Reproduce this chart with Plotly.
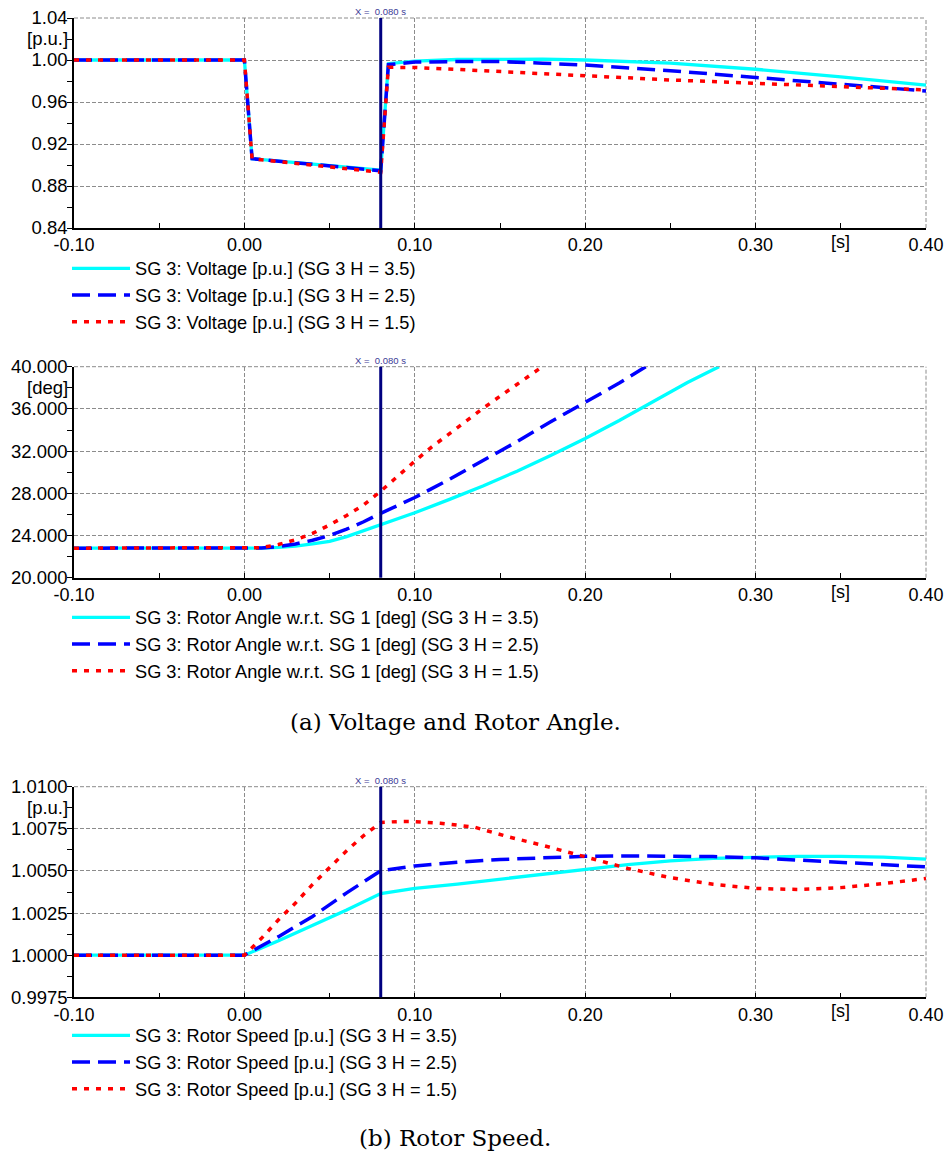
import plotly.graph_objects as go

# ---------------- data ----------------
X_TICKS = [-0.1, 0.0, 0.1, 0.2, 0.3, 0.4]
X_TICKTEXT = ["-0.10", "0.00", "0.10", "0.20", "0.30", "0.40"]
CURSOR_T = 0.08
CURSOR_LABEL = "X =\u00a0 0.080 s"

SERIES_NAMES = ["SG 3 H = 3.5", "SG 3 H = 2.5", "SG 3 H = 1.5"]

# Voltage [p.u.]
V_T = [-0.1, 0.0, 0.0045, 0.08, 0.0845, 0.1, 0.125, 0.15, 0.175, 0.2, 0.25, 0.3, 0.35, 0.4]
V_H35 = [1.0, 1.0, 0.906, 0.895, 0.9965, 0.999, 1.0005, 1.001, 1.0008, 1.0, 0.997, 0.9912, 0.984, 0.976]
V_H25 = [1.0, 1.0, 0.906, 0.8945, 0.9955, 0.998, 0.9985, 0.9985, 0.997, 0.9952, 0.9898, 0.9835, 0.977, 0.9705]
V_H15 = [1.0, 1.0, 0.906, 0.893, 0.993, 0.9929, 0.991, 0.989, 0.987, 0.9848, 0.981, 0.9778, 0.9746, 0.9715]

# Rotor angle w.r.t. SG 1 [deg]
A_T35 = [-0.1, 0.005, 0.01, 0.02, 0.03, 0.04, 0.05, 0.06, 0.07, 0.08, 0.09, 0.1, 0.12, 0.14,
         0.16, 0.18, 0.2, 0.22, 0.24, 0.26, 0.2785]
A_H35 = [22.8, 22.8, 22.81, 22.88, 23.0, 23.2, 23.45, 23.9, 24.45, 25.0, 25.6, 26.15, 27.4, 28.7,
         30.1, 31.6, 33.2, 34.9, 36.7, 38.5, 40.0]
A_T25 = [-0.1, 0.005, 0.01, 0.02, 0.03, 0.04, 0.05, 0.06, 0.07, 0.08, 0.09, 0.1, 0.12, 0.14,
         0.16, 0.18, 0.2, 0.22, 0.2355]
A_H25 = [22.8, 22.8, 22.82, 22.95, 23.2, 23.55, 24.0, 24.6, 25.3, 26.1, 26.85, 27.6, 29.3, 31.1,
         32.9, 34.8, 36.6, 38.45, 40.0]
A_T15 = [-0.1, 0.005, 0.01, 0.02, 0.03, 0.04, 0.05, 0.06, 0.07, 0.08, 0.09, 0.1, 0.11, 0.12,
         0.13, 0.14, 0.15, 0.16, 0.17, 0.1748]
A_H15 = [22.8, 22.8, 22.85, 23.15, 23.6, 24.2, 25.0, 25.9, 26.9, 28.2, 29.65, 31.05, 32.4, 33.65,
         34.85, 36.05, 37.2, 38.35, 39.45, 40.0]

# Rotor speed [p.u.]
S_T = [-0.1, 0.0, 0.02, 0.04, 0.06, 0.08, 0.1, 0.125, 0.15, 0.175, 0.2, 0.225, 0.25, 0.275,
       0.3, 0.325, 0.35, 0.375, 0.4]
S_H35 = [1.0, 1.0, 1.00085, 1.00175, 1.00268, 1.00366, 1.00397, 1.00422, 1.00452, 1.00482,
         1.00509, 1.00538, 1.0056, 1.00574, 1.00581, 1.00587, 1.00587, 1.00582, 1.0057]
S_H25 = [1.0, 1.0, 1.0011, 1.0023, 1.0037, 1.00501, 1.0053, 1.00552, 1.00568, 1.00579,
         1.00587, 1.00589, 1.00589, 1.00585, 1.00578, 1.00565, 1.00548, 1.00536, 1.00524]
S_T15 = [-0.1, 0.0, 0.01, 0.02, 0.03, 0.04, 0.05, 0.06, 0.07, 0.08, 0.09, 0.1, 0.115, 0.135,
         0.155, 0.175, 0.2, 0.225, 0.25, 0.275, 0.3, 0.325, 0.35, 0.375, 0.4]
S_H15 = [1.0, 1.0, 1.0010, 1.0021, 1.0031, 1.0042, 1.0052, 1.0062, 1.0071, 1.00788, 1.00793,
         1.00793, 1.00783, 1.0076, 1.00702, 1.00652, 1.00584, 1.00515, 1.0046, 1.00421, 1.00396,
         1.0039, 1.00401, 1.00425, 1.00455]

PANELS = [
    dict(label="SG 3: Voltage [p.u.]", unit="[p.u.]", yrange=[0.84, 1.04], dtick=0.04, fmt=".2f",
         series=[(V_T, V_H35), (V_T, V_H25), (V_T, V_H15)]),
    dict(label="SG 3: Rotor Angle w.r.t. SG 1 [deg]", unit="[deg]", yrange=[20.0, 40.0], dtick=4.0, fmt=".3f",
         series=[(A_T35, A_H35), (A_T25, A_H25), (A_T15, A_H15)]),
    dict(label="SG 3: Rotor Speed [p.u.]", unit="[p.u.]", yrange=[0.9975, 1.0100], dtick=0.0025, fmt=".4f",
         series=[(S_T, S_H35), (S_T, S_H25), (S_T15, S_H15)]),
]
CAPTIONS = ["(a) Voltage and Rotor Angle.", "(b) Rotor Speed."]

# ---------------- styling / layout ----------------
W, H = 950, 1160
X_DOMAIN_PX = (74, 926)
Y_DOMAIN_PX = [(18, 228), (366.7, 577.7), (786.7, 997.3)]   # top, bottom in px
LEGEND_TOP_PX = [250, 599, 1017]
CAPTION_Y_PX = [722, 1138]

LINE_STYLES = [
    dict(color="#00FFFF", width=3.3, dash="solid"),
    dict(color="#0000FF", width=3.5, dash="18px,8px"),
    dict(color="#FF0000", width=3.5, dash="5px,7px"),
]
SANS = "Liberation Sans, Arial, sans-serif"
GRID = "#8c8c8c"

fig = go.Figure()
layout = dict(
    width=W, height=H, margin=dict(l=0, r=0, t=0, b=0, pad=0, autoexpand=False),
    paper_bgcolor="white", plot_bgcolor="white", showlegend=True,
    font=dict(family=SANS, color="black"),
)
annotations = []
shapes = []

xdom = [X_DOMAIN_PX[0] / W, X_DOMAIN_PX[1] / W]
for i, p in enumerate(PANELS):
    n = "" if i == 0 else str(i + 1)
    xa, ya = "x" + n, "y" + n
    leg = "legend" + n
    top, bot = Y_DOMAIN_PX[i]
    ydom = [1 - bot / H, 1 - top / H]
    for (t, v), nm, st in zip(p["series"], SERIES_NAMES, LINE_STYLES):
        fig.add_trace(go.Scatter(
            x=t, y=v, mode="lines", xaxis=xa, yaxis=ya, legend=leg,
            name=f"{p['label']} ({nm})", line=st, hoverinfo="skip",
        ))
    layout["xaxis" + n] = dict(
        domain=xdom, range=[X_TICKS[0], X_TICKS[-1]], anchor=ya, automargin=False,
        tickmode="array", tickvals=X_TICKS, ticktext=X_TICKTEXT,
        ticks="inside", ticklen=5, tickcolor="black", tickwidth=1,
        minor=dict(dtick=0.05, tick0=0, ticks="inside", ticklen=5, tickcolor="black", showgrid=False),
        showline=True, linecolor="black", linewidth=1.5,
        showgrid=True, gridcolor=GRID, gridwidth=1, griddash="4px,2px",
        zeroline=False, tickfont=dict(family=SANS, size=18, color="black"),
    )
    layout["yaxis" + n] = dict(
        domain=ydom, range=p["yrange"], anchor=xa, automargin=False,
        tick0=p["yrange"][0], dtick=p["dtick"], tickformat=p["fmt"],
        ticks="outside", ticklen=5, tickcolor="black", tickwidth=1, ticklabelstandoff=-4,
        minor=dict(dtick=p["dtick"] / 2, ticks="outside", ticklen=5, tickcolor="black", showgrid=False),
        showline=True, linecolor="black", linewidth=1.5,
        showgrid=True, gridcolor=GRID, gridwidth=1, griddash="4px,2px",
        zeroline=False, tickfont=dict(family=SANS, size=18.5, color="black"),
    )
    layout[leg] = dict(
        x=67 / W, y=1 - LEGEND_TOP_PX[i] / H, xanchor="left", yanchor="top",
        bgcolor="rgba(0,0,0,0)", borderwidth=0, itemwidth=58,
        font=dict(family=SANS, size=18.2, color="black"), tracegroupgap=0,
    )
    # top and right dashed frame (grid lines at the range ends)
    shapes.append(dict(type="line", xref=xa + " domain", yref=ya + " domain", x0=0, x1=1, y0=1, y1=1,
                       line=dict(color=GRID, width=1, dash="4px,2px"), layer="below"))
    shapes.append(dict(type="line", xref=xa + " domain", yref=ya + " domain", x0=1, x1=1, y0=0, y1=1,
                       line=dict(color=GRID, width=1, dash="4px,2px"), layer="below"))
    # cursor
    shapes.append(dict(type="line", xref=xa, yref=ya + " domain", x0=CURSOR_T, x1=CURSOR_T, y0=0, y1=1,
                       line=dict(color="#000080", width=3)))
    annotations.append(dict(xref=xa, yref=ya + " domain", x=CURSOR_T, y=1, yanchor="bottom",
                            xanchor="center", text=CURSOR_LABEL, showarrow=False, yshift=-1,
                            font=dict(family=SANS, size=9.5, color="#3c3c96")))
    # unit labels
    annotations.append(dict(xref="paper", yref=ya + " domain", x=70 / W, y=0.9, xanchor="right",
                            yanchor="middle", text=p["unit"], showarrow=False,
                            font=dict(family=SANS, size=18.5, color="black")))
    annotations.append(dict(xref=xa, yref=ya + " domain", x=0.35, y=0, xanchor="center",
                            yanchor="top", text="[s]", showarrow=False, yshift=-2,
                            font=dict(family=SANS, size=18, color="black")))

for cap, cy in zip(CAPTIONS, CAPTION_Y_PX):
    annotations.append(dict(xref="paper", yref="paper", x=455 / W, y=1 - cy / H, xanchor="center",
                            yanchor="middle", text=cap, showarrow=False,
                            font=dict(family="DejaVu Serif, serif", size=23, color="black")))

layout["annotations"] = annotations
layout["shapes"] = shapes
fig.update_layout(**layout)
fig.write_html(
    "out.html",
    config={"displayModeBar": False},
    post_script="document.body.style.margin='0px';document.body.style.overflow='hidden';",
)
